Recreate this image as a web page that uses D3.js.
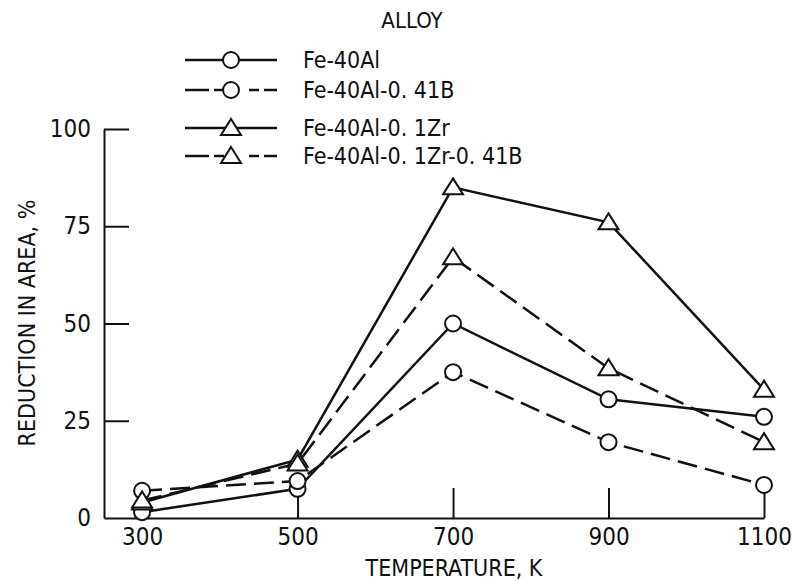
<!DOCTYPE html>
<html>
<head>
<meta charset="utf-8">
<script src="https://cdn.jsdelivr.net/npm/d3@7"></script>
<style>
  body { margin: 0; background: #fff; }
  svg text { font-family: "Liberation Sans Narrow", "DejaVu Sans Condensed", "Liberation Sans", sans-serif; fill: #111; }
</style>
</head>
<body>
<div id="chart"></div>
<script>
// DATA
const temps = [300, 500, 700, 900, 1100];
const fe40Al = [1.5, 7.5, 50, 30.5, 26];
const fe40AlB = [7, 9.5, 37.5, 19.5, 8.5];
const fe40AlZr = [4, 15, 85, 76, 33];
const fe40AlZrB = [4.5, 14, 67, 38.5, 19.5];
const alloyNames = ['Fe-40Al', 'Fe-40Al-0. 41B', 'Fe-40Al-0. 1Zr', 'Fe-40Al-0. 1Zr-0. 41B'];
const yTicks = [0, 25, 50, 75, 100];

const series = [
  { name: alloyNames[0], values: fe40Al, marker: 'circle', dashed: false },
  { name: alloyNames[1], values: fe40AlB, marker: 'circle', dashed: true },
  { name: alloyNames[2], values: fe40AlZr, marker: 'triangle', dashed: false },
  { name: alloyNames[3], values: fe40AlZrB, marker: 'triangle', dashed: true }
];

// GLOBALS
const width = 792;
const height = 584;
const ink = '#111';
const dash = '20,8';

const svg = d3.select('#chart')
  .append('svg')
  .attr('width', width)
  .attr('height', height);

const x = d3.scaleLinear().domain([251, 1100]).range([104, 764]);
const y = d3.scaleLinear().domain([0, 100]).range([518, 129]);

// AXES
const xAxis = svg.append('g')
  .attr('transform', `translate(0,${y(0)})`)
  .call(d3.axisBottom(x).tickValues(temps).tickFormat(d3.format('d'))
    .tickSizeInner(-30).tickSizeOuter(0).tickPadding(10));

const yAxis = svg.append('g')
  .attr('transform', `translate(${x.range()[0]},0)`)
  .call(d3.axisLeft(y).tickValues(yTicks).tickSizeInner(-25).tickSizeOuter(0).tickPadding(13));

[xAxis, yAxis].forEach(g => {
  g.selectAll('path, line').attr('stroke', ink).attr('stroke-width', 2);
  g.selectAll('text').style('font-size', '24px').attr('fill', ink);
});
yAxis.selectAll('.tick').filter(d => d === 0).select('line').remove();

svg.append('text')
  .attr('x', 454)
  .attr('y', 576)
  .attr('text-anchor', 'middle')
  .style('font-size', '23px')
  .text('TEMPERATURE, K');

svg.append('text')
  .attr('transform', 'translate(35,323) rotate(-90)')
  .attr('text-anchor', 'middle')
  .style('font-size', '23px')
  .text('REDUCTION IN AREA, %');

// MARKERS
function drawMarker(g, type, cx, cy) {
  if (type === 'circle') {
    g.append('circle')
      .attr('cx', cx).attr('cy', cy).attr('r', 8)
      .attr('fill', '#fff').attr('stroke', ink).attr('stroke-width', 2);
  } else {
    g.append('path')
      .attr('d', `M${cx},${cy - 9}L${cx + 10},${cy + 7}L${cx - 10},${cy + 7}Z`)
      .attr('fill', '#fff').attr('stroke', ink).attr('stroke-width', 2);
  }
}

// LINES
const line = d3.line()
  .x((d, i) => x(temps[i]))
  .y(d => y(d));

series.forEach(s => {
  svg.append('path')
    .datum(s.values)
    .attr('d', line)
    .attr('fill', 'none')
    .attr('stroke', ink)
    .attr('stroke-width', 2.5)
    .attr('stroke-dasharray', s.dashed ? dash : null);
});
series.forEach(s => {
  const g = svg.append('g');
  s.values.forEach((v, i) => drawMarker(g, s.marker, x(temps[i]), y(v)));
});

// LEGEND
svg.append('text')
  .attr('x', 412)
  .attr('y', 28)
  .attr('text-anchor', 'middle')
  .style('font-size', '22px')
  .text('ALLOY');

const legendY = [60, 90, 128, 156];
series.forEach((s, i) => {
  const g = svg.append('g');
  const ly = legendY[i];
  g.append('line')
    .attr('x1', 185).attr('x2', 277)
    .attr('y1', ly).attr('y2', ly)
    .attr('stroke', ink).attr('stroke-width', 2.5)
    .attr('stroke-dasharray', s.dashed ? '24,5,10,25,10,5,24' : null);
  drawMarker(g, s.marker, 231, ly);
  g.append('text')
    .attr('x', 303)
    .attr('y', ly + 8)
    .style('font-size', '23px')
    .text(s.name);
});
</script>
</body>
</html>
